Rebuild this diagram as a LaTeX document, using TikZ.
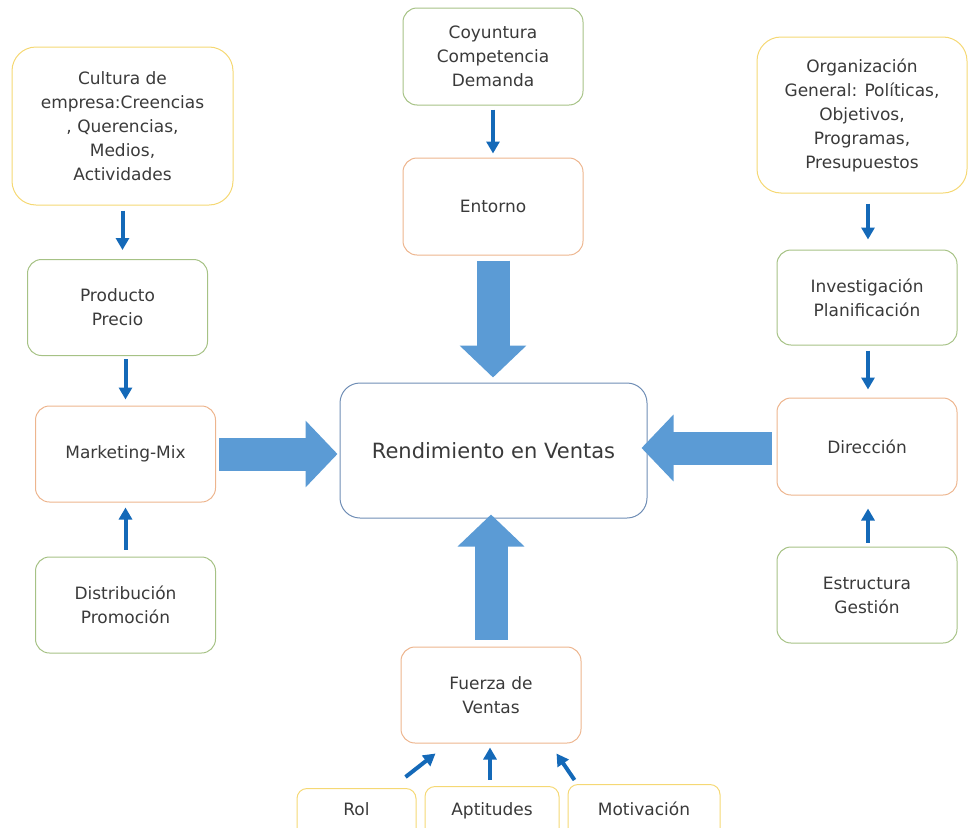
\documentclass[tikz,border=0pt]{standalone}
\usepackage{fontspec}
\setmainfont{DejaVu Sans}
\usetikzlibrary{arrows.meta,positioning}

\definecolor{boxyellow}{HTML}{F5D874}
\definecolor{boxgreen}{HTML}{A6C285}
\definecolor{boxorange}{HTML}{EDB58E}
\definecolor{boxblue}{HTML}{6F8DB5}
\definecolor{textgray}{HTML}{3A3A3A}
\definecolor{flowblue}{HTML}{1469B8}
\definecolor{bigblue}{HTML}{5B9BD5}

\begin{document}
\begin{tikzpicture}[x=1pt, y=-1pt,
		box/.style={draw, line width=1pt, rounded corners=14pt, align=center, text=textgray,
			font=\fontsize{17}{24}\selectfont, minimum width=180pt, minimum height=96pt},
		yellowbox/.style={box, draw=boxyellow},
		greenbox/.style={box, draw=boxgreen},
		orangebox/.style={box, draw=boxorange},
		footbox/.style={yellowbox, anchor=north, minimum height=0pt, inner ysep=0pt,
			text depth=30pt, rounded corners=10pt},
		flow/.style={draw=flowblue, line width=4pt, -{Triangle[length=12pt,width=13pt]}},
		bigarrow/.style={draw=bigblue, line width=33pt, -{Triangle[length=32pt,width=65pt]}}
	]
		\useasboundingbox (0,0) rectangle (968,827);

		% left column
		\node[yellowbox, minimum width=221pt, minimum height=158pt, rounded corners=24pt] (cult) at (122.5,126)
			{Cultura de\\empresa:Creencias\\, Querencias,\\Medios,\\Actividades};
		\node[greenbox] (prod) at (117.5,307.5) {Producto\\Precio};
		\node[orangebox] (mkt) at (125.5,454) {Marketing-Mix};
		\node[greenbox] (dist) at (125.5,605) {Distribución\\Promoción};

		% middle column
		\node[greenbox, minimum height=97pt] (coy) at (493,56.5) {Coyuntura\\Competencia\\Demanda};
		\node[orangebox, minimum height=97pt] (ent) at (493,206.5) {Entorno};
		\node[box, draw=boxblue, minimum width=307pt, minimum height=135pt, rounded corners=20pt,
			font=\fontsize{21}{26}\selectfont] (rend) at (493.5,450.5) {Rendimiento en Ventas};
		\node[orangebox] (fuer) at (491,695) {Fuerza de\\Ventas};

		% right column
		\node[yellowbox, minimum width=210pt, minimum height=156pt, rounded corners=24pt] (org) at (862,115)
			{Organización\\General: Políticas,\\Objetivos,\\Programas,\\Presupuestos};
		\node[greenbox, minimum height=95pt] (inv) at (867,297.5) {Investigación\\Planificación};
		\node[orangebox, minimum height=97pt] (dir) at (867,446.5) {Dirección};
		\node[greenbox] (est) at (867,595) {Estructura\\Gestión};

		% bottom row
		\node[footbox, minimum width=119pt, text height=27pt] (rol) at (356.5,788) {Rol};
		\node[footbox, minimum width=134pt, text height=29pt] (apt) at (492,786) {Aptitudes};
		\node[footbox, minimum width=152pt, text height=31pt] (mot) at (644,784) {Motivación};

		% small arrows
		\draw[flow, shorten <=5pt, shorten >=9pt] (cult.south) -- (cult.south |- prod.north);
		\draw[flow, shorten <=3pt, shorten >=6pt] (mkt.north |- prod.south) -- (mkt.north);
		\draw[flow, shorten <=7pt, shorten >=5pt] (dist.north) -- (dist.north |- mkt.south);
		\draw[flow, shorten <=4pt, shorten >=4pt] (coy.south) -- (coy.south |- ent.north);
		\draw[flow, shorten <=10pt, shorten >=10pt] ([xshift=6pt]org.south) -- ([xshift=6pt]org.south |- inv.north);
		\draw[flow, shorten <=5pt, shorten >=8pt] ([xshift=1pt]inv.south) -- ([xshift=1pt]dir.north);
		\draw[flow, shorten <=4pt, shorten >=13pt] ([xshift=1pt]est.north) -- ([xshift=1pt]dir.south);
		\draw[flow] ([xshift=-11pt,yshift=11pt]rol.north east) -- ([xshift=35pt,yshift=-10pt]fuer.south west);
		\draw[flow, shorten <=6pt, shorten >=4pt] ([xshift=-2pt]apt.north) -- ([xshift=-2pt]apt.north |- fuer.south);
		\draw[flow] ([xshift=7pt,yshift=4pt]mot.north west) -- ([xshift=-25pt,yshift=-10pt]fuer.south east);

		% block arrows
		\draw[bigarrow, shorten <=5pt, shorten >=5pt] (ent.south) -- (ent.south |- rend.north);
		\draw[bigarrow, shorten <=3pt, shorten >=2pt] (mkt.east) -- (mkt.east -| rend.west);
		\draw[bigarrow, shorten <=5pt, shorten >=-6pt] ([yshift=-1.5pt]dir.west) -- ([yshift=-1.5pt]dir.west -| rend.east);
		\draw[bigarrow, shorten <=7pt, shorten >=-4pt] (fuer.north) -- (fuer.north |- rend.south);
	\end{tikzpicture}
\end{document}
